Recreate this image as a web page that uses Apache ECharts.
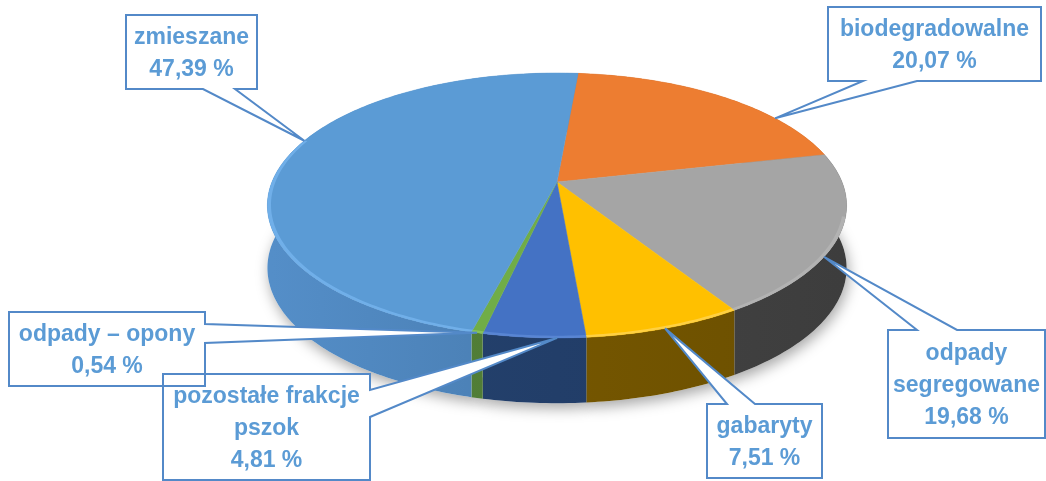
<!DOCTYPE html>
<html>
<head>
<meta charset="utf-8">
<script src="https://cdn.jsdelivr.net/npm/echarts@6/dist/echarts.min.js"></script>
<style>
html, body { margin: 0; background: #fff; }
#chart { width: 1046px; height: 481px; }
</style>
</head>
<body>
<div id="chart"></div>
<script>
var categories = ['biodegradowalne', 'odpady\nsegregowane', 'gabaryty', 'pozostałe frakcje\npszok', 'odpady – opony', 'zmieszane'];
var values = [20.07, 19.68, 7.51, 4.81, 0.54, 47.39];

var topColors = ['#ed7d31', '#a5a5a5', '#ffc000', '#4472c4', '#70ad47', '#5b9bd5'];
var wallColors = [['#b85d1f', '#a9531a'], ['#4a4a4a', '#3d3d3d'], ['#7e5d00', '#6b4f00'], ['#25436f', '#1f3963'], ['#54823a', '#4a7530'], ['#548ec8', '#3d6b99']];
var rimColors = ['#f59a5c', '#b4b4b4', '#ffd24d', '#5c88d6', '#88c45e', '#74b3ec'];

// callout boxes: x, y, w, h, which side the pointer leaves from, pointer base, where on the slice it points
var callouts = [
	{ box: [828, 7, 213, 74], side: 'bottom', base: [863, 917], at: 0.72 },
	{ box: [888, 330, 157, 108], side: 'top', base: [917, 957], at: 0.63 },
	{ box: [707, 404, 115, 74], side: 'top', base: [727, 755], at: 0.5 },
	{ box: [163, 374, 207, 106], side: 'right', base: [390, 417], at: 0.28 },
	{ box: [9, 312, 196, 74], side: 'right', base: [324, 343], at: 0.5 },
	{ box: [126, 15, 131, 74], side: 'bottom', base: [203, 235], at: 0.56 }
];

var startAngle = 5;
var cx = 557, cy = 182, rx = 285, ry = 128.3, persp = 0.1773, depth = 62;

var total = values.reduce(function (s, v) { return s + v; }, 0);
var starts = [];
var acc = 0;
values.forEach(function (v) {
	starts.push(startAngle + acc / total * 360);
	acc += v;
});

function rim(a, down, k) {
	k = k || 1;
	var r = a * Math.PI / 180;
	var X = Math.sin(r) * k, Z = -Math.cos(r) * k;
	var d = 1 - persp * Z;
	var y = cy + ry * Z / d;
	if (down) y += depth / (1 - 0.05 * Z);
	return [cx + rx * X / d, y];
}

function arc(a1, a2, down, k) {
	var n = Math.max(2, Math.ceil(Math.abs(a2 - a1)));
	var pts = [];
	for (var i = 0; i <= n; i++) {
		pts.push(rim(a1 + (a2 - a1) * i / n, down, k));
	}
	return pts;
}

function sliceAngles(i, api) {
	var a1 = starts[i];
	return [a1, a1 + api.value(0) / total * 360];
}

function fmt(v) {
	return v.toFixed(2).replace('.', ',') + ' %';
}

function calloutPoints(c, tip) {
	var x = c.box[0], y = c.box[1], w = c.box[2], h = c.box[3];
	var b1 = c.base[0], b2 = c.base[1];
	if (c.side === 'top') {
		return [[x, y], [b1, y], tip, [b2, y], [x + w, y], [x + w, y + h], [x, y + h]];
	}
	if (c.side === 'right') {
		return [[x, y], [x + w, y], [x + w, b1], tip, [x + w, b2], [x + w, y + h], [x, y + h]];
	}
	return [[x, y], [x + w, y], [x + w, y + h], [b2, y + h], tip, [b1, y + h], [x, y + h]];
}

var chart = echarts.init(document.getElementById('chart'));

var option = {
	animation: false,
	series: [
		{
			// soft shadow under the pie
			type: 'custom',
			coordinateSystem: 'none',
			z: 1,
			silent: true,
			data: values,
			renderItem: function (params, api) {
				var a = sliceAngles(params.dataIndex, api);
				var pts = [[cx, cy + depth]].concat(arc(a[0], a[1], true));
				return {
					type: 'polygon',
					shape: { points: pts },
					style: { fill: '#fff', shadowBlur: 14, shadowOffsetX: 2, shadowOffsetY: 5, shadowColor: 'rgba(0,0,0,0.35)' }
				};
			}
		},
		{
			// side walls
			type: 'custom',
			coordinateSystem: 'none',
			z: 2,
			silent: true,
			data: values,
			renderItem: function (params, api) {
				var i = params.dataIndex;
				var a = sliceAngles(i, api);
				var pts = arc(a[0], a[1], false).concat(arc(a[1], a[0], true));
				return {
					type: 'polygon',
					shape: { points: pts },
					style: {
						fill: new echarts.graphic.LinearGradient(cx - rx, 0, cx + rx, 0, [
							{ offset: 0, color: wallColors[i][0] },
							{ offset: 1, color: wallColors[i][1] }
						], true)
					}
				};
			}
		},
		{
			// top faces
			type: 'custom',
			coordinateSystem: 'none',
			z: 3,
			data: values,
			renderItem: function (params, api) {
				var i = params.dataIndex;
				var a = sliceAngles(i, api);
				return {
					type: 'polygon',
					shape: { points: [[cx, cy]].concat(arc(a[0], a[1], false)) },
					style: { fill: topColors[i], stroke: topColors[i], lineWidth: 0.5 }
				};
			}
		},
		{
			// bevel highlight along the front rim
			type: 'custom',
			coordinateSystem: 'none',
			z: 4,
			silent: true,
			data: values,
			renderItem: function (params, api) {
				var i = params.dataIndex;
				var a = sliceAngles(i, api);
				var lo = Math.max(a[0], 105), hi = Math.min(a[1], 290);
				if (hi <= lo) return;
				return {
					type: 'polygon',
					shape: { points: arc(lo, hi, false, 1).concat(arc(hi, lo, false, 0.988)) },
					style: { fill: rimColors[i], opacity: 0.85 }
				};
			}
		},
		{
			// callout fills
			type: 'custom',
			coordinateSystem: 'none',
			z: 5,
			silent: true,
			data: values,
			renderItem: function (params, api) {
				var i = params.dataIndex;
				var a = sliceAngles(i, api);
				var c = callouts[i];
				var tip = rim(a[0] + (a[1] - a[0]) * c.at, false);
				return {
					type: 'polygon',
					shape: { points: calloutPoints(c, tip) },
					style: { fill: '#fff' }
				};
			}
		},
		{
			// callout outlines and labels
			type: 'custom',
			coordinateSystem: 'none',
			z: 6,
			silent: true,
			data: values,
			renderItem: function (params, api) {
				var i = params.dataIndex;
				var a = sliceAngles(i, api);
				var c = callouts[i];
				var tip = rim(a[0] + (a[1] - a[0]) * c.at, false);
				return {
					type: 'group',
					children: [
						{
							type: 'polygon',
							shape: { points: calloutPoints(c, tip) },
							style: { fill: null, stroke: '#5389c8', lineWidth: 2 }
						},
						{
							type: 'text',
							style: {
								text: categories[i] + '\n' + fmt(api.value(0)),
								x: c.box[0] + c.box[2] / 2,
								y: c.box[1] + c.box[3] / 2 + 2,
								align: 'center',
								verticalAlign: 'middle',
								font: 'bold 23px "Liberation Sans", Arial, sans-serif',
								lineHeight: 32,
								fill: '#5b9bd5'
							}
						}
					]
				};
			}
		}
	]
};

chart.setOption(option);
</script>
</body>
</html>
